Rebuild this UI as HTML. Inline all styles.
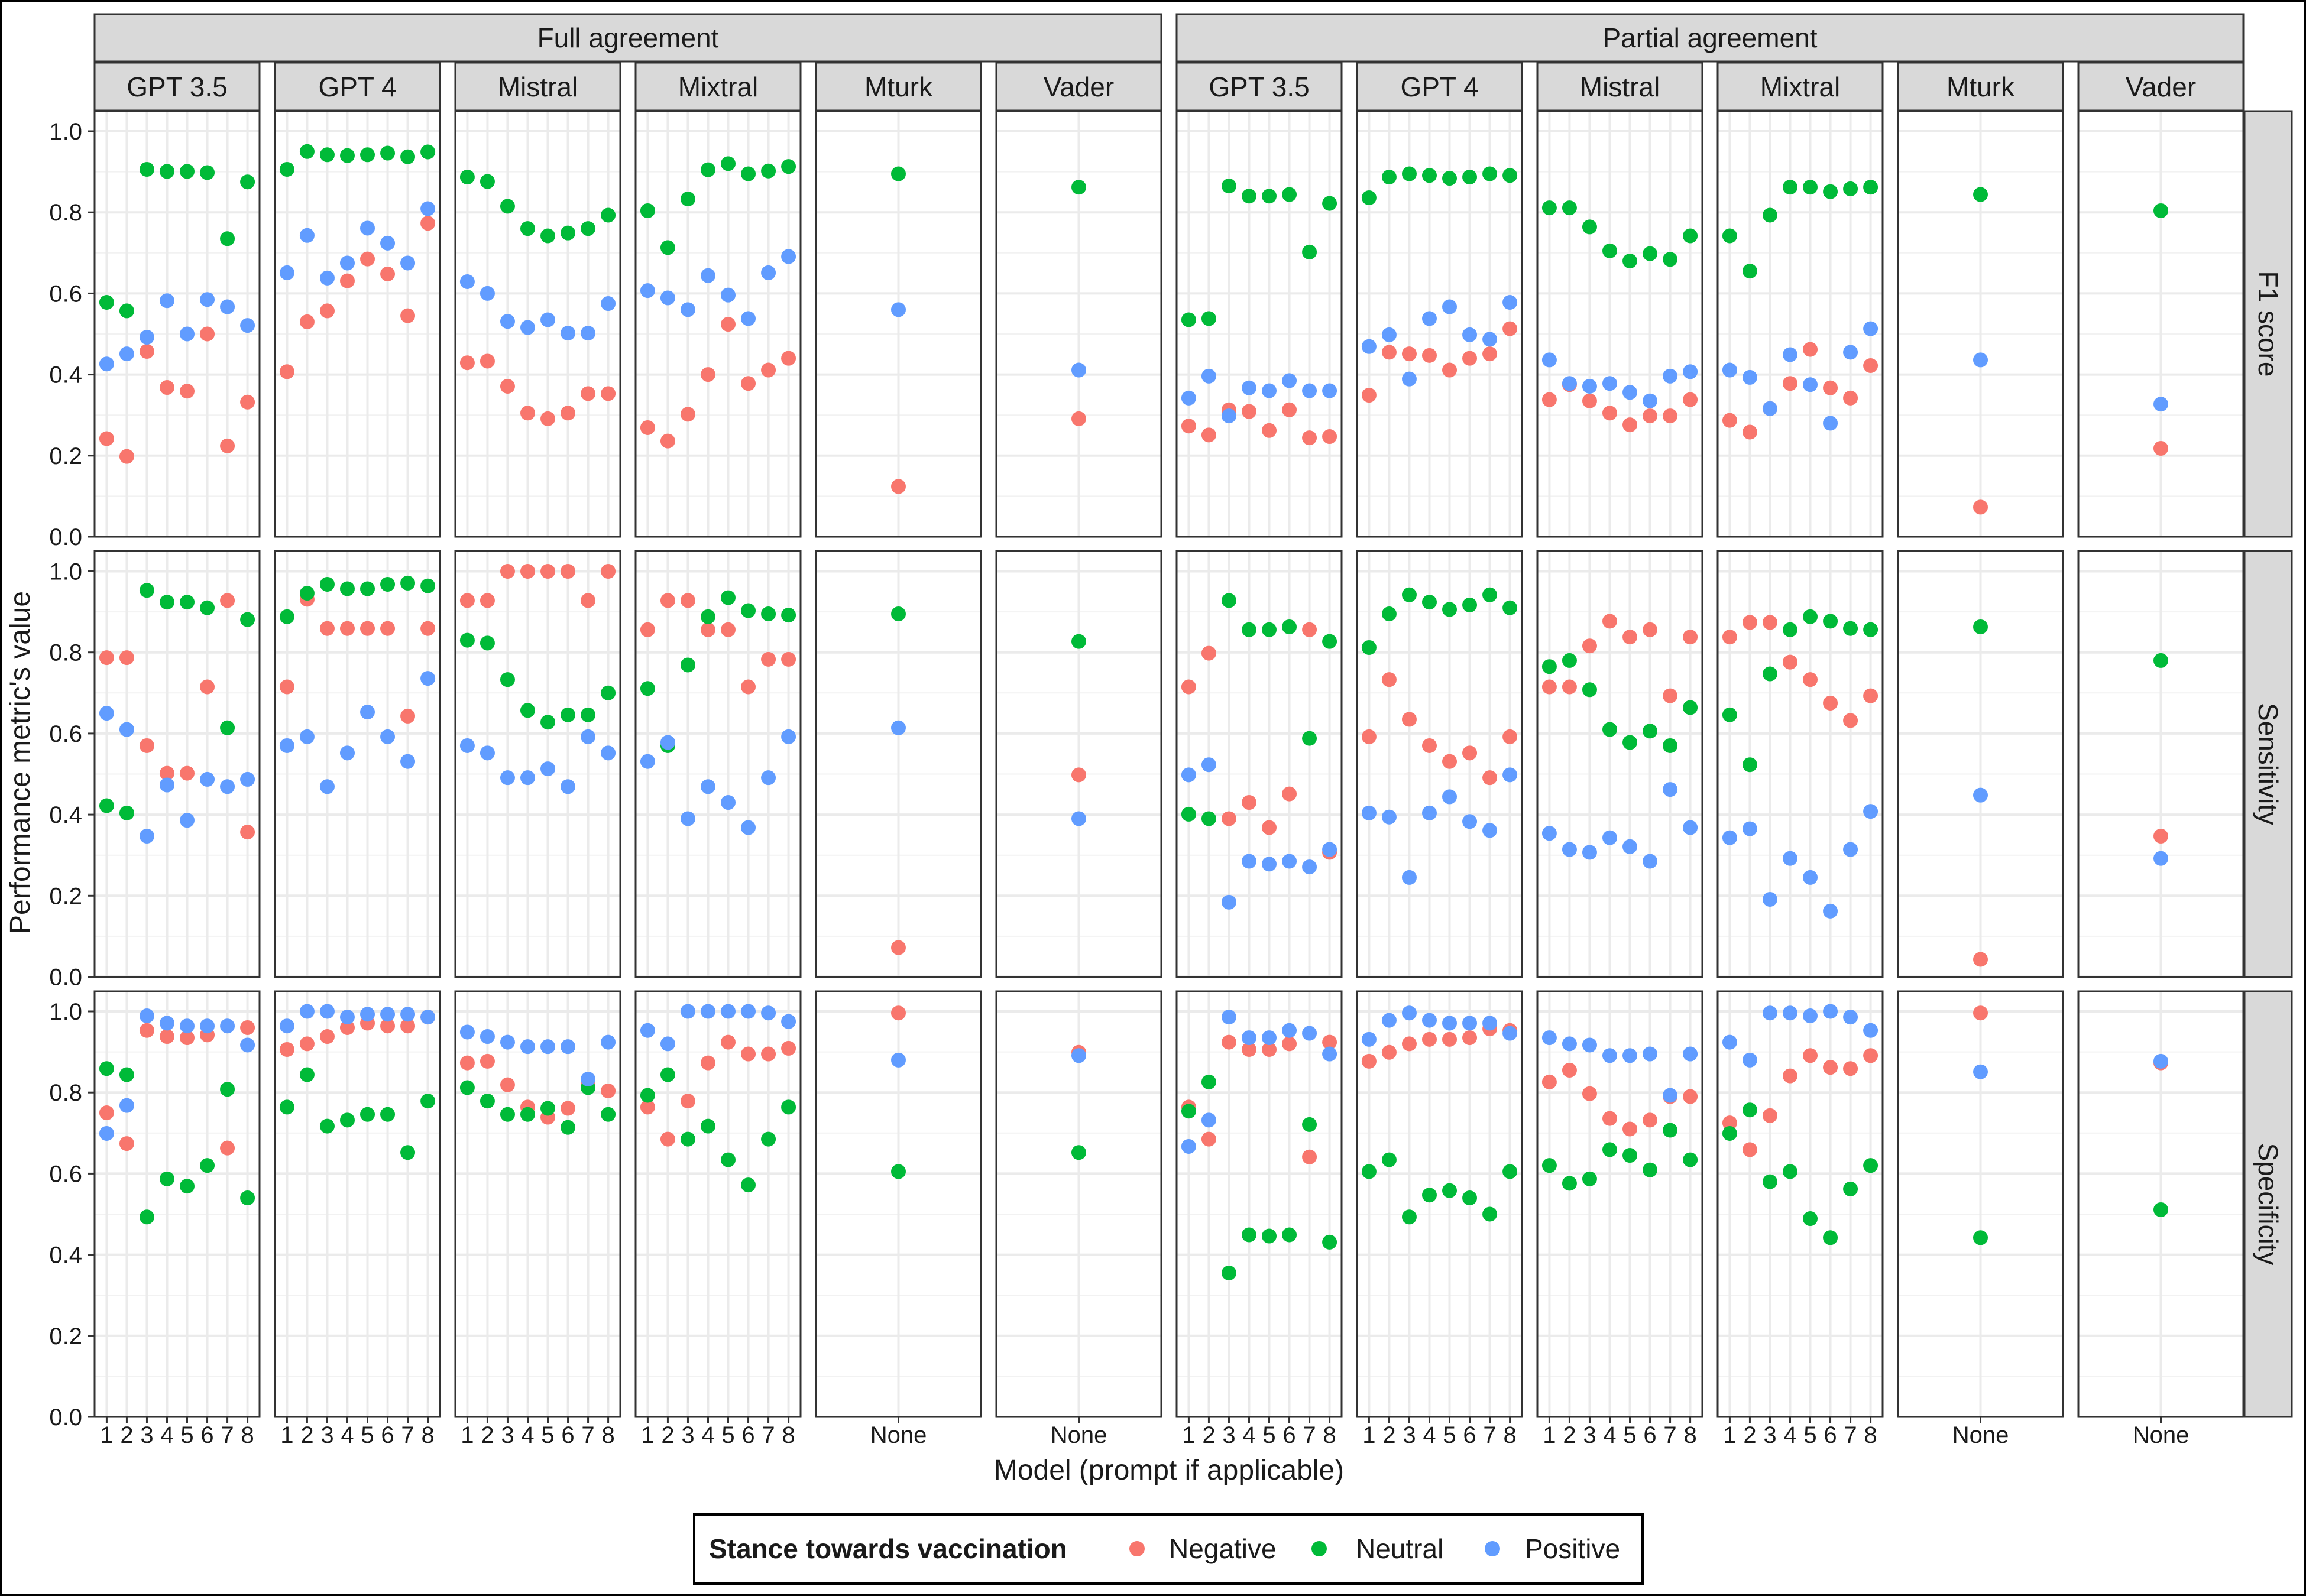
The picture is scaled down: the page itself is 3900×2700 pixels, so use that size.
<!DOCTYPE html>
<html><head><meta charset="utf-8"><style>
html,body{margin:0;padding:0;background:#fff}
svg{display:block}
text{font-family:"Liberation Sans",Arial,sans-serif;fill:#1a1a1a}
</style></head><body>
<svg id="chart" width="3900" height="2700" viewBox="0 0 3900 2700" xmlns="http://www.w3.org/2000/svg">
<rect x="2" y="2" width="3896" height="2696" fill="#fff" stroke="#000" stroke-width="4"/>
<g id="layer"></g>
<text x="50" y="1290" font-size="48" text-anchor="middle" transform="rotate(-90 50 1290)">Performance metric's value</text>
<text x="1977" y="2503" font-size="48" text-anchor="middle">Model (prompt if applicable)</text>
<g>
<rect x="1174" y="2562" width="1604" height="117" fill="#fff" stroke="#000" stroke-width="4"/>
<text x="1199" y="2636" font-size="46" font-weight="bold">Stance towards vaccination</text>
<circle cx="1923" cy="2620" r="13" fill="#F8766D"/>
<text x="1977" y="2636" font-size="46">Negative</text>
<circle cx="2231" cy="2620" r="13" fill="#00BA38"/>
<text x="2293" y="2636" font-size="46">Neutral</text>
<circle cx="2524" cy="2620" r="13" fill="#619CFF"/>
<text x="2579" y="2636" font-size="46">Positive</text>
</g>
</svg>
<script>
const agreements = ["Full agreement","Partial agreement"];
const models = ["GPT 3.5","GPT 4","Mistral","Mixtral","Mturk","Vader"];
const metrics = ["F1 score","Sensitivity","Specificity"];
const prompts = ["1","2","3","4","5","6","7","8"];
const noneLabel = ["None"];
const yTicks = [0,0.2,0.4,0.6,0.8,1.0];
const yTickLabels = ["0.0","0.2","0.4","0.6","0.8","1.0"];
const yMinor = [0.1,0.3,0.5,0.7,0.9];

// F1 score
const f1FullNeg = [[.242,.198,.457,.368,.359,.5,.224,.332],[.407,.53,.557,.631,.685,.648,.545,.773],[.429,.433,.371,.305,.291,.305,.353,.353],[.269,.236,.302,.4,.524,.378,.411,.44],[.124],[.291]];
const f1FullNeu = [[.578,.557,.906,.901,.901,.898,.735,.875],[.906,.95,.942,.94,.942,.946,.937,.949],[.887,.876,.815,.76,.742,.749,.76,.793],[.804,.713,.833,.905,.92,.895,.902,.913],[.895],[.862]];
const f1FullPos = [[.426,.451,.492,.582,.5,.585,.567,.521],[.651,.743,.638,.675,.761,.724,.675,.809],[.629,.6,.531,.516,.535,.502,.502,.575],[.607,.589,.56,.644,.596,.538,.651,.691],[.56],[.411]];
const f1PartNeg = [[.273,.251,.313,.309,.262,.313,.244,.247],[.349,.455,.451,.447,.411,.44,.451,.513],[.338,.375,.335,.305,.276,.298,.298,.338],[.287,.258,.316,.378,.462,.367,.342,.422],[.073],[.218]];
const f1PartNeu = [[.535,.538,.865,.84,.84,.844,.702,.822],[.836,.887,.895,.891,.884,.887,.895,.891],[.811,.811,.764,.705,.68,.698,.684,.742],[.742,.655,.793,.862,.862,.851,.858,.862],[.844],[.804]];
const f1PartPos = [[.342,.396,.298,.367,.36,.385,.36,.36],[.469,.498,.389,.538,.567,.498,.487,.578],[.436,.378,.371,.378,.356,.335,.396,.407],[.411,.393,.316,.449,.375,.28,.455,.513],[.436],[.327]];
// Sensitivity
const senFullNeg = [[.787,.787,.57,.502,.502,.715,.928,.357],[.715,.931,.859,.859,.859,.859,.643,.859],[.928,.928,1,1,1,1,.928,1],[.856,.928,.928,.856,.856,.715,.783,.783],[.072],[.498]];
const senFullNeu = [[.422,.404,.953,.924,.924,.91,.614,.881],[.888,.946,.968,.957,.957,.968,.971,.964],[.83,.823,.733,.657,.628,.646,.646,.7],[.711,.57,.769,.888,.935,.903,.895,.892],[.895],[.827]];
const senFullPos = [[.65,.61,.347,.473,.386,.487,.469,.487],[.57,.592,.469,.552,.653,.592,.531,.736],[.57,.552,.491,.491,.513,.469,.592,.552],[.531,.578,.39,.469,.43,.368,.491,.592],[.614],[.39]];
const senPartNeg = [[.715,.798,.39,.43,.368,.451,.856,.307],[.592,.733,.635,.57,.531,.552,.491,.592],[.715,.715,.816,.877,.838,.856,.693,.838],[.838,.874,.874,.776,.733,.675,.632,.693],[.043],[.347]];
const senPartNeu = [[.401,.39,.928,.856,.856,.863,.588,.827],[.812,.895,.942,.924,.906,.917,.942,.91],[.765,.78,.708,.61,.578,.606,.57,.664],[.646,.523,.747,.856,.888,.877,.859,.856],[.863],[.78]];
const senPartPos = [[.498,.523,.184,.285,.278,.285,.271,.314],[.404,.394,.245,.404,.444,.383,.361,.498],[.354,.314,.307,.343,.321,.285,.462,.368],[.343,.365,.191,.292,.245,.162,.314,.408],[.448],[.292]];
// Specificity
const speFullNeg = [[.75,.674,.953,.938,.935,.942,.663,.96],[.906,.92,.938,.96,.971,.964,.964,.986],[.873,.877,.819,.764,.739,.761,.822,.804],[.764,.685,.779,.873,.924,.895,.895,.909],[.996],[.899]];
const speFullNeu = [[.859,.844,.493,.587,.569,.62,.808,.54],[.764,.844,.717,.732,.746,.746,.652,.779],[.812,.779,.746,.746,.761,.714,.812,.746],[.793,.844,.685,.717,.634,.572,.685,.764],[.605],[.652]];
const speFullPos = [[.699,.768,.989,.971,.964,.964,.964,.917],[.964,1,1,.986,.993,.993,.993,.986],[.949,.938,.924,.913,.913,.913,.833,.924],[.953,.92,1,1,1,1,.996,.975],[.88],[.891]];
const spePartNeg = [[.764,.685,.924,.906,.906,.92,.641,.924],[.877,.899,.92,.931,.931,.935,.957,.953],[.826,.855,.797,.736,.71,.732,.79,.79],[.725,.659,.743,.841,.891,.862,.859,.891],[.996],[.873]];
const spePartNeu = [[.754,.826,.355,.449,.446,.449,.721,.431],[.605,.634,.493,.547,.558,.54,.5,.605],[.62,.576,.587,.659,.645,.609,.707,.634],[.699,.757,.58,.605,.489,.442,.562,.62],[.442],[.511]];
const spePartPos = [[.667,.732,.986,.935,.935,.953,.946,.895],[.931,.978,.996,.978,.971,.971,.971,.946],[.935,.92,.917,.891,.891,.895,.793,.895],[.924,.88,.996,.996,.989,1,.986,.953],[.851],[.877]];

const data = [
  [[f1FullNeg,f1FullNeu,f1FullPos],[f1PartNeg,f1PartNeu,f1PartPos]],
  [[senFullNeg,senFullNeu,senFullPos],[senPartNeg,senPartNeu,senPartPos]],
  [[speFullNeg,speFullNeu,speFullPos],[spePartNeg,spePartNeu,spePartPos]]
];
const stanceColors = ["#F8766D","#00BA38","#619CFF"];
const stanceNames = ["negative","neutral","positive"];

const NS = "http://www.w3.org/2000/svg";
const layer = document.getElementById("layer");
const PL = 160, PW = 279, PITCH = 305, PT = 188, PH = 720, RP = 744.5;
function mk(tag, attrs, parent){const e=document.createElementNS(NS,tag);for(const k in attrs)e.setAttribute(k,attrs[k]);(parent||layer).appendChild(e);return e;}
function panelLeft(c){return PL + c*PITCH;}
function rowTop(r){return PT + r*RP;}
function yScale(r,v){return rowTop(r) + PH - v*686;}
function xScale(c,i,n){const L=panelLeft(c); if(n===1) return L+PW/2; const s=PW/(n-1+1.2); return L+(0.6+i)*s;}

for(let a=0;a<2;a++){
  const x0=panelLeft(a*6), x1=panelLeft(a*6+5)+PW;
  const r=mk("rect",{x:x0,y:24,width:x1-x0,height:80,fill:"#D9D9D9",stroke:"#333",'stroke-width':3});
  
  
  const t=mk("text",{x:(x0+x1)/2,y:80,'font-size':46,'text-anchor':'middle'});
  
  
  t.textContent=agreements[a];
}
for(let c=0;c<12;c++){
  const L=panelLeft(c);
  const r=mk("rect",{x:L,y:106,width:PW,height:81,fill:"#D9D9D9",stroke:"#333",'stroke-width':3});
  
  
  const t=mk("text",{x:L+PW/2,y:163,'font-size':46,'text-anchor':'middle'});
  
  
  t.textContent=models[c%6];
}
for(let r=0;r<3;r++){
  const T=rowTop(r);
  const s=mk("rect",{x:3796,y:T,width:80,height:PH,fill:"#D9D9D9",stroke:"#333",'stroke-width':3});
  
  
  const cx=3836, cy=T+PH/2;
  const t=mk("text",{x:cx,y:cy+16,'font-size':46,'text-anchor':'middle',transform:`rotate(90 ${cx} ${cy})`});
  
  
  t.textContent=metrics[r];
}
for(let r=0;r<3;r++){
  for(let c=0;c<12;c++){
    const a=Math.floor(c/6), m=c%6, L=panelLeft(c), T=rowTop(r);
    const g=mk("g",{});
    
    
    mk("rect",{x:L,y:T,width:PW,height:PH,fill:"#fff"},g);
    yMinor.forEach(v=>mk("line",{x1:L,x2:L+PW,y1:yScale(r,v),y2:yScale(r,v),stroke:"#F2F2F2",'stroke-width':2},g));
    yTicks.forEach(v=>mk("line",{x1:L,x2:L+PW,y1:yScale(r,v),y2:yScale(r,v),stroke:"#EBEBEB",'stroke-width':4},g));
    const cats = m>=4 ? noneLabel : prompts;
    cats.forEach((_,i)=>{const x=xScale(c,i,cats.length);mk("line",{x1:x,x2:x,y1:T,y2:T+PH,stroke:"#EBEBEB",'stroke-width':4},g);});
    for(let s=0;s<3;s++){
      const vals=data[r][a][s][m];
      vals.forEach((v,i)=>{
        const p=mk("circle",{cx:xScale(c,i,vals.length),cy:yScale(r,v),r:12.5,fill:stanceColors[s]},g);
        
        
      });
    }
    mk("rect",{x:L,y:T,width:PW,height:PH,fill:"none",stroke:"#333",'stroke-width':3},g);
    if(c===0){
      yTicks.forEach((v,k)=>{
        const y=yScale(r,v);
        mk("line",{x1:148,x2:L,y1:y,y2:y,stroke:"#333",'stroke-width':3});
        const t=mk("text",{x:139,y:y+14,'font-size':40,'text-anchor':'end'});
        
        
        t.textContent=yTickLabels[k];
      });
    }
    if(r===2){
      cats.forEach((lab,i)=>{
        const x=xScale(c,i,cats.length);
        mk("line",{x1:x,x2:x,y1:T+PH,y2:T+PH+11,stroke:"#333",'stroke-width':3});
        const t=mk("text",{x:x,y:T+PH+44,'font-size':40,'text-anchor':'middle'});
        
        
        t.textContent=lab;
      });
    }
  }
}
</script>
</body></html>
